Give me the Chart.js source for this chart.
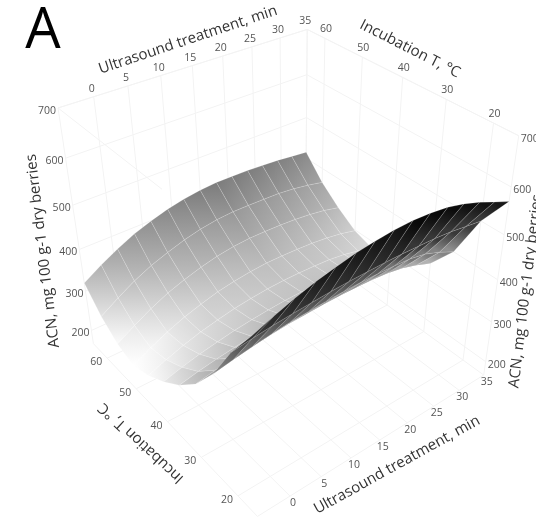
<!DOCTYPE html>
<html><head><meta charset="utf-8">
<style>html,body{margin:0;padding:0;background:#fff;overflow:hidden}#w{position:relative;width:536px;height:522px}</style>
<script src="https://cdn.jsdelivr.net/npm/chart.js@4"></script></head>
<body><div id="w"><canvas id="c" width="536" height="522"></canvas></div>
<script>
const usValues=[-5,-2.1,0.7,3.6,6.4,9.3,12.1,15,17.9,20.7,23.6,26.4,29.3,32.1,35];
const tempValues=[15,20,25,30,35,40,45,50,55,60,65];
const acn15=[560,576,590,602,611,619,624,628,629,627,622,613,600,585,570];
const acn20=[490,496,501,505,508,511,513,514,515,515,514,513,510,505,500];
const acn25=[405,413,420,426,431,434,437,439,440,440,439,437,430,417,400];
const acn30=[342,350,356,362,366,370,372,374,375,375,374,371,365,354,340];
const acn35=[298,307,314,320,325,329,332,334,335,335,334,331,326,317,305];
const acn40=[265,277,287,295,302,307,311,314,315,315,314,311,306,297,285];
const acn45=[240,256,270,282,291,299,304,308,310,310,309,307,302,294,283];
const acn50=[225,247,266,282,294,305,312,317,320,320,319,317,313,307,298];
const acn55=[240,265,287,306,320,332,341,347,350,350,349,347,343,337,328];
const acn60=[272,298,321,340,354,367,376,382,385,385,384,383,379,373,365];
const acn65=[320,345,366,385,399,411,419,425,428,428,427,425,423,419,415];
const acnRows=[acn15,acn20,acn25,acn30,acn35,acn40,acn45,acn50,acn55,acn60,acn65];
const usTicks=[0,5,10,15,20,25,30,35];
const tempTicks=[20,30,40,50,60];
const acnTicks=[200,300,400,500,600,700];

// view: box corners on the page -> projective camera
const usR=[-5,35],tR=[15,65],zR=[165,700];
const corners=[[-5,65,700,58,108],[35,65,700,307,30],[35,15,700,519,135],[-5,65,165,93,344],[35,65,165,306,245],[35,15,165,483,376],[-5,15,165,258,516]];
const nrm=(u,t,z)=>[(u-usR[0])/(usR[1]-usR[0]),(t-tR[0])/(tR[1]-tR[0]),(z-zR[0])/(zR[1]-zR[0])];
function solve(){const R=[];for(const c of corners){const[a,b,d]=nrm(c[0],c[1],c[2]),x=c[3],y=c[4];
 R.push([a,b,d,1,0,0,0,0,-x*a,-x*b,-x*d,x]);R.push([0,0,0,0,a,b,d,1,-y*a,-y*b,-y*d,y]);}
 const n=11,M=Array.from({length:n},()=>Array(n+1).fill(0));
 for(const r of R)for(let i=0;i<n;i++)for(let j=0;j<=n;j++)M[i][j]+=r[i]*r[j];
 for(let i=0;i<n;i++){let p=i;for(let k=i;k<n;k++)if(Math.abs(M[k][i])>Math.abs(M[p][i]))p=k;[M[i],M[p]]=[M[p],M[i]];
  for(let k=0;k<n;k++)if(k!==i){const f=M[k][i]/M[i][i];for(let j=i;j<=n;j++)M[k][j]-=f*M[i][j];}}
 return M.map((r,i)=>r[n]/r[i]);}
const P=solve();
function proj(u,t,z){const[a,b,d]=nrm(u,t,z),w=P[8]*a+P[9]*b+P[10]*d+1;
 return{x:(P[0]*a+P[1]*b+P[2]*d+P[3])/w,y:(P[4]*a+P[5]*b+P[6]*d+P[7])/w};}

// colour scale
const zStops=[235,320,415,500,555,600,640],greyStops=[255,190,135,62,35,18,5];
function grey(z){let i=0;while(i<zStops.length-2&&z>zStops[i+1])i++;
 const f=Math.max(0,Math.min(1,(z-zStops[i])/(zStops[i+1]-zStops[i])));
 const g=Math.round(greyStops[i]+f*(greyStops[i+1]-greyStops[i]));return`rgb(${g},${g},${g})`;}

const ds=[];
const gridCol='#f3f3f3';
const line=(pts)=>ds.push({data:pts,showLine:true,pointRadius:0,borderColor:gridCol,borderWidth:1,fill:false,tension:0});
// walls & floor
for(const z of acnTicks){line([proj(-5,65,z),proj(35,65,z),proj(35,15,z)]);}
for(const u of usTicks){line([proj(u,65,700),proj(u,65,165),proj(u,15,165)]);}
for(const t of tempTicks){line([proj(35,t,700),proj(35,t,165),proj(-5,t,165)]);}
line([proj(-5,65,700),proj(35,65,700),proj(35,15,700),proj(35,15,165),proj(-5,15,165),proj(-5,65,165),proj(-5,65,700)]);
line([proj(35,65,700),proj(35,65,165)]);
line([proj(-5,65,700),proj(-5,35,700)]);
// surface quads far -> near
for(let r=tempValues.length-2;r>=0;r--)for(let c=usValues.length-2;c>=0;c--){
 const q=[[c,r],[c+1,r],[c+1,r+1],[c,r+1]].map(([i,j])=>({u:usValues[i],t:tempValues[j],z:acnRows[j][i]}));
 const pts=q.map(v=>proj(v.u,v.t,v.z));pts.push(pts[0]);
 const lo=q.reduce((a,b)=>a.z<b.z?a:b),hi=q.reduce((a,b)=>a.z>b.z?a:b);
 const pl=proj(lo.u,lo.t,lo.z),ph=proj(hi.u,hi.t,hi.z);
 ds.push({data:pts,showLine:true,pointRadius:0,tension:0,fill:'shape',borderWidth:1,borderColor:'rgba(255,255,255,0.15)',
  backgroundColor:(ctx)=>{const ch=ctx.chart;if(!ch.chartArea)return grey(lo.z);
   const g=ch.ctx.createLinearGradient(ch.scales.x.getPixelForValue(pl.x),ch.scales.y.getPixelForValue(pl.y),ch.scales.x.getPixelForValue(ph.x),ch.scales.y.getPixelForValue(ph.y));
   g.addColorStop(0,grey(lo.z));g.addColorStop(1,grey(hi.z));return g;}});
}
ds.forEach((d,i)=>d.order=ds.length-i);

const txt=(c,s,x,y,font,col,rot,al)=>{c.save();c.translate(x,y);c.rotate((rot||0)*Math.PI/180);c.font=font;c.fillStyle=col;c.textAlign=al||'center';c.textBaseline='middle';c.fillText(s,0,0);c.restore();};
const F='"Open Sans"';
const labels={id:'labels',afterDraw(ch){const c=ch.ctx,tick='10.5px '+F,tc='#555',sx=ch.scales.x,sy=ch.scales.y;
 const put=(s,p,dx,dy)=>txt(c,s,sx.getPixelForValue(p.x)+dx,sy.getPixelForValue(p.y)+dy,tick,tc);
 for(const u of usTicks){put(String(u),proj(u,65,700),-2,-8);put(String(u),proj(u,15,165),3,7);}
 for(const t of tempTicks){put(String(t),proj(35,t,700),1,-9);put(String(t),proj(-5,t,165),-11,4);}
 for(const z of acnTicks){put(String(z),proj(-5,65,z),-11,3);put(String(z),proj(35,15,z),11,3);}
 const tf='15px '+F,tk='#333';
 txt(c,'A',43,32,'56px '+F,'#000');
 txt(c,'Ultrasound treatment, min',188,40,tf,tk,-18.5);
 txt(c,'Incubation T, °C',410,49,tf,tk,27);
 txt(c,'Incubation T, °C',141,443,tf,tk,223);
 txt(c,'Ultrasound treatment, min',397,465,tf,tk,-29);
 txt(c,'ACN, mg 100 g-1 dry berries',43,251,tf,tk,-97);
 txt(c,'ACN, mg 100 g-1 dry berries',514,388,tf,tk,-83,'left');
}};
new Chart(document.getElementById('c'),{type:'scatter',data:{datasets:ds},plugins:[labels],
 options:{responsive:false,animation:false,layout:{padding:0},events:[],
  plugins:{legend:{display:false},tooltip:{enabled:false},title:{display:false}},
  scales:{x:{type:'linear',min:0,max:536,display:false},y:{type:'linear',min:0,max:522,reverse:true,display:false}}}});
</script></body></html>
